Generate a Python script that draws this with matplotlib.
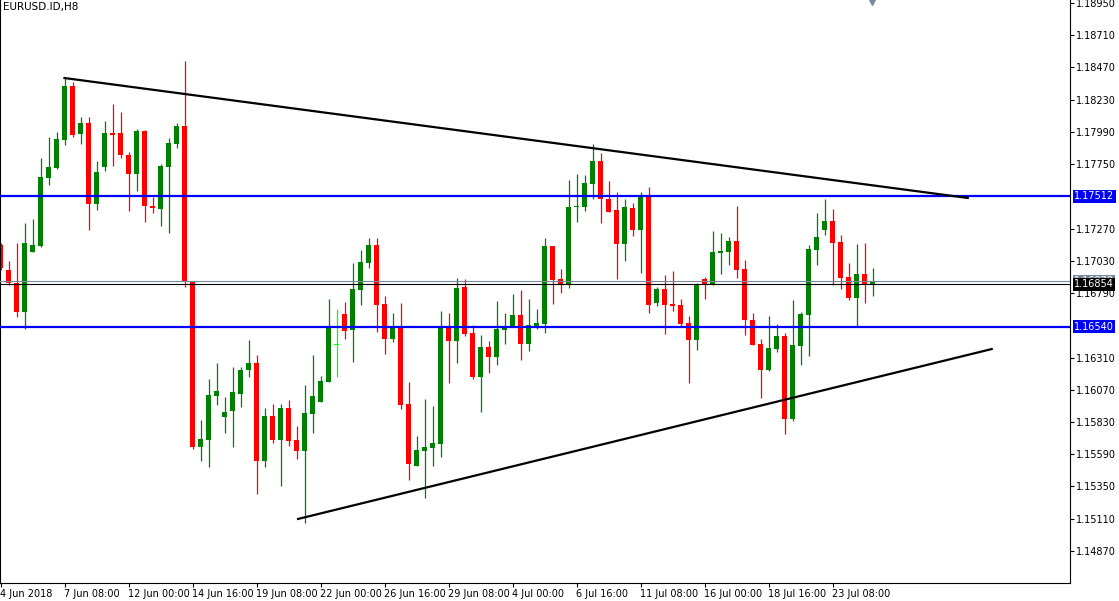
import numpy as np
import matplotlib
matplotlib.use("Agg")
import matplotlib.pyplot as plt
import matplotlib.transforms as mtransforms

# EURUSD H8 candles (bar 0 = leftmost visible bar)
opens = [
    1.17148, 1.16962, 1.16865, 1.16649, 1.17095, 1.17140, 1.17646, 1.17721, 1.17930, 1.18331,
    1.17974, 1.18056, 1.17453, 1.17729, 1.17982, 1.17982, 1.17818, 1.17676, 1.17997, 1.17438,
    1.17416, 1.17729, 1.17900, 1.18033, 1.16872, 1.15644, 1.15696, 1.16023, 1.15867, 1.15912,
    1.16038, 1.16217, 1.16269, 1.15540, 1.15874, 1.15696, 1.15934, 1.15696, 1.15614, 1.15889,
    1.15979, 1.16127, 1.16403, 1.16634, 1.16515, 1.16813, 1.17014, 1.17148, 1.16708, 1.16448,
    1.16537, 1.15964, 1.15502, 1.15614, 1.15636, 1.15666, 1.16537, 1.16433, 1.16835, 1.16493,
    1.16165, 1.16388, 1.16314, 1.16515, 1.16537, 1.16627, 1.16410, 1.16537, 1.16559, 1.17140,
    1.16895, 1.16850, 1.17428, 1.17431, 1.17602, 1.17774, 1.17490, 1.17408, 1.17155, 1.17423,
    1.17259, 1.17512, 1.16716, 1.16820, 1.16708, 1.16701, 1.16567, 1.16440, 1.16895, 1.16850,
    1.17088, 1.17095, 1.17178, 1.16969, 1.16589, 1.16410, 1.16217, 1.16373, 1.16470, 1.15852,
    1.16395, 1.16627, 1.17110, 1.17259, 1.17327, 1.17170, 1.16910, 1.16753, 1.16932, 1.16850,
]
highs = [
    1.17163, 1.17029, 1.17163, 1.17312, 1.17341, 1.17795, 1.17952, 1.17989, 1.18391, 1.18361,
    1.18101, 1.18101, 1.17774, 1.18071, 1.18197, 1.18138, 1.17840, 1.18011, 1.18004, 1.17505,
    1.17751, 1.17944, 1.18056, 1.18518, 1.16880, 1.15845, 1.16150, 1.16269, 1.16016, 1.16239,
    1.16239, 1.16440, 1.16329, 1.15934, 1.15964, 1.15964, 1.15994, 1.15800, 1.16105, 1.16329,
    1.16172, 1.16746, 1.16671, 1.16723, 1.17014, 1.17110, 1.17199, 1.17199, 1.16768, 1.16642,
    1.16716, 1.16127, 1.15725, 1.16001, 1.15949, 1.16657, 1.16642, 1.16902, 1.16895, 1.16552,
    1.16478, 1.16433, 1.16731, 1.16642, 1.16783, 1.16813, 1.16746, 1.16671, 1.17199, 1.17140,
    1.16969, 1.17632, 1.17676, 1.17669, 1.17900, 1.17833, 1.17625, 1.17542, 1.17490, 1.17461,
    1.17542, 1.17580, 1.16835, 1.16925, 1.16955, 1.16746, 1.16619, 1.16865, 1.16910, 1.17252,
    1.17237, 1.17207, 1.17438, 1.17036, 1.16642, 1.16448, 1.16619, 1.16559, 1.16493, 1.16738,
    1.16649, 1.17148, 1.17386, 1.17490, 1.17416, 1.17222, 1.17014, 1.17155, 1.17163, 1.16976,
]
lows = [
    1.16962, 1.16850, 1.16612, 1.16522, 1.17095, 1.17133, 1.17595, 1.17714, 1.17893, 1.17952,
    1.17900, 1.17259, 1.17408, 1.17699, 1.17736, 1.17795, 1.17401, 1.17550, 1.17319, 1.17386,
    1.17289, 1.17237, 1.17870, 1.16835, 1.15629, 1.15540, 1.15495, 1.15957, 1.15748, 1.15644,
    1.15942, 1.16165, 1.15293, 1.15495, 1.15674, 1.15353, 1.15651, 1.15554, 1.15078, 1.15748,
    1.15979, 1.16127, 1.16165, 1.16448, 1.16276, 1.16701, 1.16976, 1.16500, 1.16336, 1.16425,
    1.15927, 1.15398, 1.15502, 1.15263, 1.15502, 1.15569, 1.16120, 1.16269, 1.16470, 1.16150,
    1.15904, 1.16195, 1.16254, 1.16410, 1.16537, 1.16291, 1.16359, 1.16522, 1.16493, 1.16708,
    1.16791, 1.16827, 1.17319, 1.17401, 1.17490, 1.17312, 1.17393, 1.16895, 1.17029, 1.17214,
    1.16940, 1.16642, 1.16693, 1.16485, 1.16657, 1.16544, 1.16120, 1.16366, 1.16746, 1.16850,
    1.16932, 1.16999, 1.16902, 1.16478, 1.16403, 1.16008, 1.16210, 1.16351, 1.15740, 1.15838,
    1.16254, 1.16321, 1.16999, 1.17222, 1.16850, 1.16820, 1.16738, 1.16537, 1.16716, 1.16768,
]
closes = [
    1.16976, 1.16865, 1.16649, 1.17163, 1.17148, 1.17654, 1.17729, 1.17937, 1.18331, 1.17967,
    1.18056, 1.17453, 1.17691, 1.17982, 1.17967, 1.17818, 1.17676, 1.17997, 1.17438, 1.17423,
    1.17736, 1.17908, 1.18033, 1.16872, 1.15644, 1.15703, 1.16031, 1.16061, 1.15904, 1.16053,
    1.16217, 1.16269, 1.15540, 1.15874, 1.15696, 1.15934, 1.15689, 1.15614, 1.15897, 1.16023,
    1.16135, 1.16529, 1.16403, 1.16508, 1.16820, 1.17021, 1.17148, 1.16701, 1.16448, 1.16537,
    1.15957, 1.15517, 1.15621, 1.15644, 1.15674, 1.16537, 1.16433, 1.16827, 1.16485, 1.16165,
    1.16388, 1.16314, 1.16522, 1.16537, 1.16627, 1.16410, 1.16552, 1.16567, 1.17140, 1.16887,
    1.16850, 1.17431, 1.17431, 1.17610, 1.17774, 1.17490, 1.17393, 1.17155, 1.17431, 1.17259,
    1.17512, 1.16701, 1.16820, 1.16701, 1.16693, 1.16559, 1.16440, 1.16850, 1.16850, 1.17095,
    1.17103, 1.17178, 1.16962, 1.16589, 1.16403, 1.16217, 1.16380, 1.16470, 1.15852, 1.16403,
    1.16634, 1.17118, 1.17207, 1.17327, 1.17163, 1.16902, 1.16753, 1.16932, 1.16850, 1.16878,
]

# time axis labels, one every 8 bars
tick_bars = [0, 8, 16, 24, 32, 40, 48, 56, 64, 72, 80, 88, 96, 104]
tick_labels = ["4 Jun 2018", "7 Jun 08:00", "12 Jun 00:00", "14 Jun 16:00", "19 Jun 08:00",
               "22 Jun 00:00", "26 Jun 16:00", "29 Jun 08:00", "4 Jul 00:00", "6 Jul 16:00",
               "11 Jul 08:00", "16 Jul 00:00", "18 Jul 16:00", "23 Jul 08:00"]
price_ticks = [1.18950, 1.18710, 1.18470, 1.18230, 1.17990, 1.17750, 1.17270, 1.17030,
               1.16790, 1.16310, 1.16070, 1.15830, 1.15590, 1.15350, 1.15110, 1.14870]

# horizontal levels and trend lines (bar, price)
levels = [1.17512, 1.16540]
bid, ask = 1.16854, 1.16878
trend_hi = ([8, 120.9], [1.18391, 1.17498])
trend_lo = ([37.2, 123.9], [1.15108, 1.16373])

o = np.array(opens); h = np.array(highs); l = np.array(lows); c = np.array(closes)
x = np.arange(len(o))
cols = np.where(c > o, "#008000", np.where(c < o, "#FF0000", "#00FF00"))

fig = plt.figure(figsize=(11.19, 6.01), dpi=100)
ax = fig.add_axes([0, 18 / 601, 1070 / 1119, 583 / 601])
ax.set_xlim(-0.5 / 8, 1069.5 / 8)
ax.set_ylim(1.14631, 1.18972)

ax.vlines(x, l, h, colors=cols, linewidth=0.9, zorder=2)
body_lo = np.minimum(o, c)
body_h = np.maximum(np.abs(c - o), 0.00008)
ax.bar(x, body_h, bottom=body_lo, width=0.62, color=cols, linewidth=0, zorder=2)

for lv in levels:
    ax.axhline(lv, color="#0000FF", linewidth=1.6, zorder=3)
ax.axhline(ask, color="#778899", linewidth=0.8, zorder=3)
ax.axhline(bid, color="black", linewidth=0.8, zorder=3)
ax.plot(*trend_hi, color="black", linewidth=1.6, zorder=4)
ax.plot(*trend_lo, color="black", linewidth=1.6, zorder=4)

for s in ["left", "bottom", "right"]:
    ax.spines[s].set_linewidth(0.8)
ax.spines["top"].set_visible(False)

ax.yaxis.tick_right()
ax.set_yticks(price_ticks)
ax.set_yticklabels(["%.5f" % p for p in price_ticks])
ax.tick_params(axis="y", direction="out", length=3, width=0.8, labelsize=7, pad=1)
ax.set_xticks(tick_bars)
ax.set_xticklabels(tick_labels, ha="left")
ax.tick_params(axis="x", direction="out", length=3, width=0.8, labelsize=7, pad=1)

yt = mtransforms.blended_transform_factory(ax.transAxes, ax.transData)
def tag(price, bg, txt):
    ax.annotate(txt, xy=(1, price), xycoords=yt, xytext=(4, 0), textcoords="offset pixels",
                ha="left", va="center", fontsize=7, color="white", annotation_clip=False,
                bbox=dict(boxstyle="square,pad=0.15", fc=bg, ec="none"), zorder=6)

tag(levels[0], "#0000FF", "%.5f" % levels[0])
tag(levels[1], "#0000FF", "%.5f" % levels[1])
tag(ask, "#778899", "%.5f" % ask)
tag(bid, "black", "%.5f" % bid)

ax.text(0.003, 0.997, "EURUSD.ID,H8", transform=ax.transAxes, ha="left", va="top", fontsize=7.5)
xt = mtransforms.blended_transform_factory(ax.transData, ax.transAxes)
ax.plot([871.5 / 8], [0.997], marker="v", markersize=5, color="#778899", transform=xt,
        clip_on=False, zorder=6)

fig.savefig("out.png", dpi=100)
